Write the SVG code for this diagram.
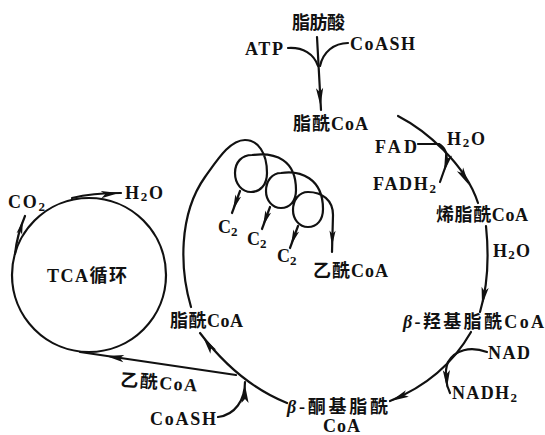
<svg xmlns="http://www.w3.org/2000/svg" width="545" height="435" viewBox="0 0 545 435">
<style>
 .t{font-family:"Liberation Serif","Noto Sans CJK SC",serif;font-size:18px;font-weight:bold;fill:#111}
 .s{font-size:13px}
 .i{font-style:italic}
 .c{fill:none;stroke:#111;stroke-width:2.2;stroke-linecap:round;stroke-linejoin:round}
 .a{fill:#111;stroke:none}
</style>
<defs>
 <path id="ah" d="M0,0 L-18,-3.6 L-14,0 L-18,3.6 Z"/>
</defs>
<rect width="545" height="435" fill="#fff"/>

<g id="connectors" class="c">
 <path d="M317,37 L321,110"/>
 <path d="M288,48 C303,47 314,54 318,66"/>
 <path d="M348,43 C334,43 323,52 320,66"/>
 <path d="M398,116 C425,130 465,163 478,203"/>
 <path d="M418,144 L439,144 Q449,150 446,165 L440,182"/>
 <path d="M486,226 C489,255 488,285 480,312"/>
 <path d="M471,332 C455,360 430,385 390,401"/>
 <path d="M487,352 C470,346 455,350 448,362 C444,372 446,385 450,393"/>
 <path d="M287,403 C262,393 232,375 200,333"/>
 <path d="M218,417 C235,415 245,400 245,382"/>
 <path d="M236,375 L80,352"/>
 <circle cx="89" cy="275" r="77"/>
 <path d="M15,254 Q17,235 25,216"/>
 <path d="M72,198 Q92,193 121,193"/>
 <path d="M191,307 C180,270 178,215 205,177 C218,159 230,140 245,140 C258,140 267,153 267,173 C267,185 260,192 251,192 C242,192 235,184 235,173 C235,162 242,155 252,155 C276,152 296,160 296,190 C296,201 290,208 281,208 C272,208 266,200 266,191 C266,181 272,173 281,173 C300,170 323,178 323,209 C323,220 317,227 308,227 C299,227 293,219 293,210 C293,200 299,192 308,192 C322,192 333,200 333,215 L332,252"/>
 <path d="M240,191 L232,213"/>
 <path d="M270,207 L262,229"/>
 <path d="M298,226 L290,248"/>
</g>
<g id="arrowheads" class="a">
 <use href="#ah" transform="translate(320.5,106) rotate(87)"/>
 <use href="#ah" transform="translate(469,185) rotate(60)"/>
 <use href="#ah" transform="translate(444,172) rotate(105)"/>
 <use href="#ah" transform="translate(482,305) rotate(100)"/>
 <use href="#ah" transform="translate(391,401) rotate(155)"/>
 <use href="#ah" transform="translate(447,388) rotate(88)"/>
 <use href="#ah" transform="translate(203,337) rotate(-125)"/>
 <use href="#ah" transform="translate(245,385) rotate(-90)"/>
 <use href="#ah" transform="translate(106,356) rotate(188.5)"/>
 <use href="#ah" transform="translate(23,220) rotate(-75) scale(0.8)"/>
 <use href="#ah" transform="translate(119,193) rotate(-5)"/>
 <use href="#ah" transform="translate(233,210) rotate(110) scale(0.85)"/>
 <use href="#ah" transform="translate(263,226) rotate(110) scale(0.85)"/>
 <use href="#ah" transform="translate(291,245) rotate(110) scale(0.85)"/>
 <use href="#ah" transform="translate(332,246) rotate(92) scale(0.85)"/>
</g>

<g id="n-fatty-acid"><text class="t" x="292" y="29" textLength="53">脂肪酸</text></g>
<g id="n-atp"><text class="t" x="245" y="55" textLength="38">ATP</text></g>
<g id="n-coash-top"><text class="t" x="350" y="50" textLength="65">CoASH</text></g>
<g id="n-acylcoa-top"><text class="t" x="293" y="130" textLength="75">脂酰CoA</text></g>
<g id="n-fad"><text class="t" x="375" y="153" textLength="42">FAD</text></g>
<g id="n-h2o-1"><text class="t" x="447" y="145" textLength="38">H<tspan class="s" dy="2">2</tspan><tspan dy="-2">O</tspan></text></g>
<g id="n-fadh2"><text class="t" x="373" y="190" textLength="63">FADH<tspan class="s" dy="3">2</tspan></text></g>
<g id="n-enoyl"><text class="t" x="436" y="221" textLength="92">烯脂酰CoA</text></g>
<g id="n-h2o-2"><text class="t" x="493" y="257" textLength="37">H<tspan class="s" dy="2">2</tspan><tspan dy="-2">O</tspan></text></g>
<g id="n-hydroxy"><text class="t" x="403" y="328" textLength="141"><tspan class="i">β</tspan>-羟基脂酰CoA</text></g>
<g id="n-nad"><text class="t" x="488" y="359" textLength="42">NAD</text></g>
<g id="n-nadh2"><text class="t" x="452" y="399" textLength="65">NADH<tspan class="s" dy="3">2</tspan></text></g>
<g id="n-keto"><text class="t" x="287" y="413" textLength="101"><tspan class="i">β</tspan>-酮基脂酰</text><text class="t" x="323" y="432" textLength="37">CoA</text></g>
<g id="n-coash-bottom"><text class="t" x="150" y="425" textLength="66">CoASH</text></g>
<g id="n-acetylcoa-bottom"><text class="t" x="120" y="386" textLength="77" transform="rotate(4 120 386)">乙酰CoA</text></g>
<g id="n-acylcoa-left"><text class="t" x="170" y="327" textLength="73">脂酰CoA</text></g>
<g id="n-tca"><text class="t" x="47" y="282" textLength="80">TCA循环</text></g>
<g id="n-co2"><text class="t" x="8" y="208" textLength="37">CO<tspan class="s" dy="3">2</tspan></text></g>
<g id="n-h2o-3"><text class="t" x="125" y="199" textLength="38">H<tspan class="s" dy="2">2</tspan><tspan dy="-2">O</tspan></text></g>
<g id="n-c2-1"><text class="t" x="218" y="233">C<tspan class="s" dy="3">2</tspan></text></g>
<g id="n-c2-2"><text class="t" x="247" y="245">C<tspan class="s" dy="3">2</tspan></text></g>
<g id="n-c2-3"><text class="t" x="277" y="262">C<tspan class="s" dy="3">2</tspan></text></g>
<g id="n-acetylcoa-spiral"><text class="t" x="313" y="277" textLength="75">乙酰CoA</text></g>
</svg>
